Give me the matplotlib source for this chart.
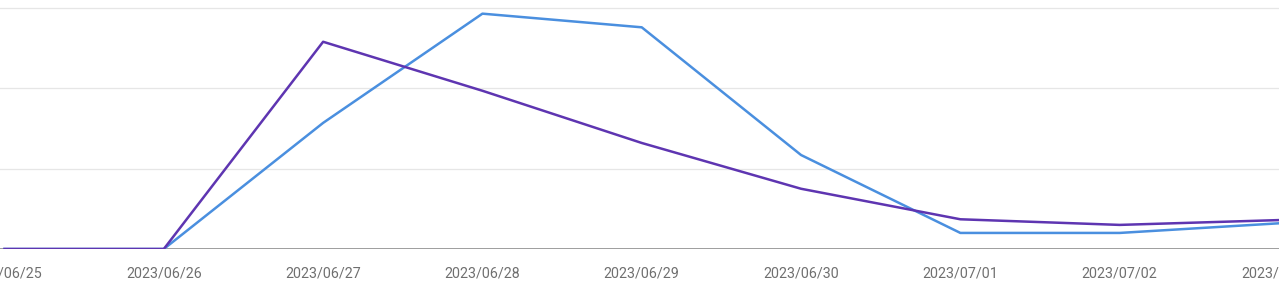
import matplotlib.pyplot as plt
import numpy as np

dates = ["2023/06/25", "2023/06/26", "2023/06/27", "2023/06/28", "2023/06/29",
         "2023/06/30", "2023/07/01", "2023/07/02", "2023/07/03"]
purple_vals = [0, 0, 25.8, 19.7, 13.2, 7.5, 3.7, 3.0, 3.6]
blue_vals = [0, 0, 15.7, 29.3, 27.6, 11.7, 2.0, 2.0, 3.2]
grid_vals = [10, 20, 30]

plt.rcParams['font.family'] = ['Roboto', 'DejaVu Sans']

fig = plt.figure(figsize=(12.79, 2.98), dpi=100)
ax = fig.add_axes([0, 49 / 298, 1, 249 / 298])

x = np.arange(len(dates))
for g in grid_vals:
    ax.axhline(g, color='#e6e6e6', linewidth=0.9, zorder=0)
ax.axhline(0, color='#9e9e9e', linewidth=1.4, zorder=1)

ax.plot(x, purple_vals, color='#5e35b1', linewidth=1.8, zorder=3)
ax.plot(x, blue_vals, color='#4a8fdf', linewidth=1.8, zorder=2)

ax.set_xlim(-4.5 / 159.5, (1279 - 4.5) / 159.5)
ax.set_ylim(0, 31)
ax.set_xticks(x)
ax.set_xticklabels(dates, fontsize=10.3, color='#6f6f6f')
ax.tick_params(axis='x', length=0, pad=12.5)
ax.set_yticks([])
for s in ax.spines.values():
    s.set_visible(False)

fig.savefig('out.png', dpi=100, facecolor='white')
